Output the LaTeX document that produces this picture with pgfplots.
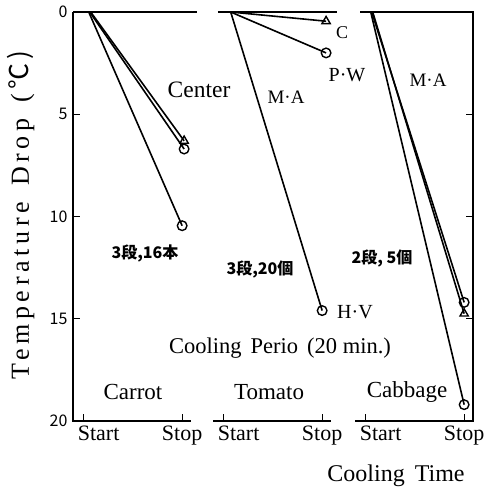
\documentclass[border=0pt]{standalone}
\usepackage{fontspec}
\setmainfont{Liberation Serif}
\newfontfamily\cjk{Noto Sans CJK JP}
\newfontfamily\spaced[LetterSpace=18]{Liberation Serif}
\usepackage{pgfplots}
\pgfplotsset{compat=1.18}
\pgfplotsset{
  panel/.style={
    scale only axis, width=118pt, height=409pt,
    xmin=-0.11, xmax=1.09, ymin=0, ymax=20, y dir=reverse,
    clip=false,
    axis line style={draw=none},
    xtick={0,1}, xticklabels={\rlap{\hspace{-6pt}Start},Stop},
    xtick pos=left,
    tick align=inside,
    major tick length=7pt,
    tick style={black, line width=1.2pt},
    x tick label style={font=\fontsize{22}{22}\selectfont, yshift=-1pt},
    /pgf/number format/assume math mode=true,
  },
  ln/.style={black, line width=1.6pt, mark indices={2}, mark size=4.8pt, mark options={solid, fill=white, line width=1.4pt}},
}
\begin{document}
\begin{tikzpicture}
\path (0,0) rectangle (502pt,491pt);
% Carrot
\begin{axis}[panel, at={(73pt,70pt)}, anchor=south west,
  ytick={0,5,10,15,20}, ytick pos=left,
  y tick label style={font=\cjk\fontsize{16}{16}\selectfont, xshift=-2pt}]
\draw[line width=1.6pt] (axis cs:-0.11,0) -- (axis cs:-0.11,20) -- (axis cs:1.09,20);
\draw[line width=1.6pt] (axis cs:-0.11,0) -- (axis cs:1.15,0);
\addplot[ln, mark=triangle] coordinates {(0.07,0) (1.02,6.3)};
\addplot[ln, mark=o] coordinates {(0.06,0) (1.02,6.7)};
\addplot[ln, mark=o] coordinates {(0.05,0) (1.0,10.45)};
\end{axis}
% Tomato
\begin{axis}[panel, at={(213pt,70pt)}, anchor=south west, ytick=\empty]
\draw[line width=1.6pt] (axis cs:-0.11,20) -- (axis cs:1.09,20);
\draw[line width=1.6pt] (axis cs:-0.06,0) -- (axis cs:1.15,0);
\addplot[ln, mark=triangle] coordinates {(0.07,0) (1.04,0.45)};
\addplot[ln, mark=o] coordinates {(0.07,0) (1.04,2.0)};
\addplot[ln, mark=o] coordinates {(0.07,0) (1.0,14.6)};
\end{axis}
% Cabbage
\begin{axis}[panel, at={(355pt,70pt)}, anchor=south west,
  ytick={5,10,15}, ytick pos=right, yticklabels={}]
\draw[line width=1.6pt] (axis cs:-0.11,20) -- (axis cs:1.09,20) -- (axis cs:1.09,0) -- (axis cs:-0.06,0);
\addplot[ln, mark=o] coordinates {(0.06,0) (1.0,14.2)};
\addplot[ln, mark=triangle] coordinates {(0.07,0) (1.0,14.75)};
\addplot[ln, mark=o] coordinates {(0.05,0) (1.0,19.2)};
\end{axis}
% texts
\node[rotate=90, font=\spaced\fontsize{26}{26}\selectfont] at (21pt,276pt) {Temperature\hspace{16pt}Drop\hspace{16pt}(\,\cjk ℃\,)};
\node[font=\fontsize{23.5}{23.5}\selectfont] at (199pt,401pt) {Center};
\node[font=\cjk\bfseries\fontsize{16}{16}\selectfont] at (145pt,238pt) {3段,16本};
\node[font=\fontsize{19}{19}\selectfont] at (286pt,394pt) {M·A};
\node[font=\fontsize{18}{18}\selectfont] at (342pt,458pt) {C};
\node[font=\fontsize{20}{20}\selectfont] at (347pt,416pt) {P·W};
\node[font=\cjk\bfseries\fontsize{16}{16}\selectfont] at (260pt,222pt) {3段,20個};
\node[font=\fontsize{20}{20}\selectfont] at (355pt,179pt) {H·V};
\node[font=\fontsize{19}{19}\selectfont] at (428pt,411pt) {M·A};
\node[font=\cjk\bfseries\fontsize{16}{16}\selectfont] at (382pt,233pt) {2段, 5個};
\node[font=\fontsize{22.5}{22.5}\selectfont] at (280pt,143pt) {Cooling\hspace{9pt}Perio\hspace{9pt}(20\ min.)};
\node[font=\fontsize{23}{23}\selectfont] at (133pt,99pt) {Carrot};
\node[font=\fontsize{23}{23}\selectfont] at (269pt,99pt) {Tomato};
\node[font=\fontsize{23}{23}\selectfont] at (407pt,99pt) {Cabbage};
\node[font=\fontsize{24}{24}\selectfont] at (396pt,15pt) {Cooling\hspace{10pt}Time};
\end{tikzpicture}
\end{document}
